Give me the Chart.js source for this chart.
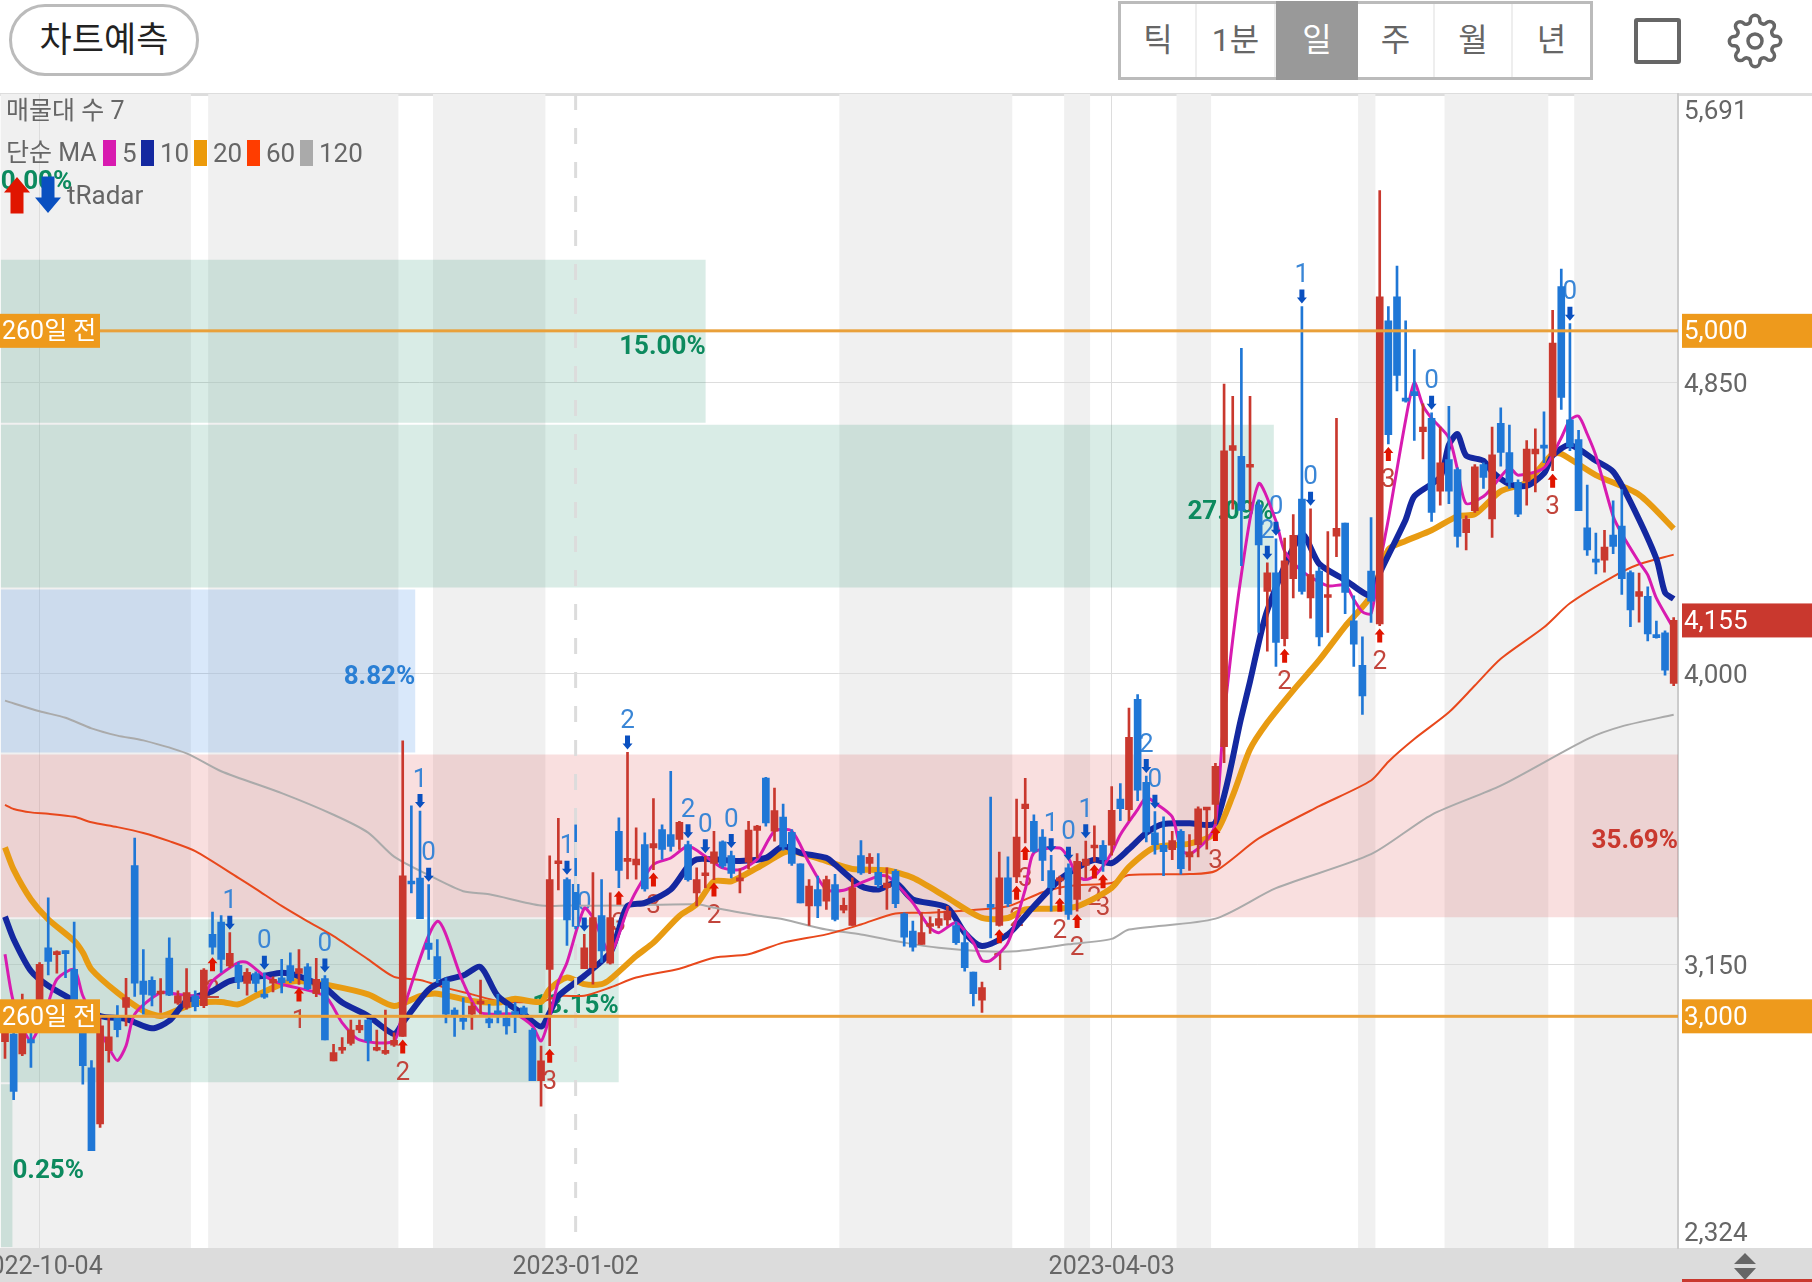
<!DOCTYPE html>
<html lang="ko">
<head>
<meta charset="utf-8">
<title>차트</title>
<script src="https://cdn.jsdelivr.net/npm/chart.js@4/dist/chart.umd.min.js"></script>
<style>
    html, body { margin: 0; padding: 0; background: #fff; }
    body { width: 1812px; height: 1282px; position: relative; overflow: hidden; font-family: Roboto, "Noto Sans CJK KR", sans-serif; }
    canvas { position: absolute; left: 0; top: 0; }
    .pill { position: absolute; left: 9px; top: 4px; width: 190px; height: 72px; box-sizing: border-box; border: 3px solid #bbb; border-radius: 36px; text-align: center; line-height: 67px; font-size: 35px; color: #222; }
    .periods { position: absolute; left: 1118px; top: 1px; width: 475px; height: 79px; box-sizing: border-box; border: 3px solid #bbb; display: flex; }
    .periods div { text-align: center; line-height: 72px; font-size: 32px; color: #666; border-right: 2px solid #eee; box-sizing: border-box; }
    .periods .active { background: #999; color: #fff; border-right: 0; height: 79px; margin-top: -3px; line-height: 78px; }
    .square { position: absolute; left: 1634px; top: 18px; width: 47px; height: 46px; box-sizing: border-box; border: 4px solid #666; border-radius: 3px; }
    .gear { position: absolute; left: 1727px; top: 13px; }
    .divider { position: absolute; left: 0; top: 93px; width: 1812px; height: 3px; background: #ddd; }
    .dateband { position: absolute; left: 0; top: 1248px; width: 1812px; height: 34px; background: #dcdcdc; }
    .redstrip { position: absolute; left: 1682px; top: 1279px; width: 130px; height: 3px; background: #c9382e; }
    .updown { position: absolute; left: 1732px; top: 1251px; }
</style>
</head>
<body>
<div class="pill">차트예측</div>
<div class="periods">
    <div style="width:76px">틱</div>
    <div style="width:79px">1분</div>
    <div class="active" style="width:82px">일</div>
    <div style="width:77px">주</div>
    <div style="width:78px">월</div>
    <div style="width:77px;border-right:0">년</div>
</div>
<div class="square"></div>
<svg class="gear" width="56" height="56" viewBox="0 0 24 24" fill="none" stroke="#666" stroke-width="1.5" stroke-linejoin="round">
    <circle cx="12" cy="12" r="3"></circle>
    <path d="M19.4 15a1.65 1.65 0 0 0 .33 1.82l.06.06a2 2 0 0 1 0 2.83 2 2 0 0 1-2.83 0l-.06-.06a1.65 1.65 0 0 0-1.82-.33 1.65 1.65 0 0 0-1 1.51V21a2 2 0 0 1-2 2 2 2 0 0 1-2-2v-.09A1.65 1.65 0 0 0 9 19.4a1.65 1.65 0 0 0-1.82.33l-.06.06a2 2 0 0 1-2.83 0 2 2 0 0 1 0-2.83l.06-.06a1.65 1.65 0 0 0 .33-1.82 1.65 1.65 0 0 0-1.51-1H3a2 2 0 0 1-2-2 2 2 0 0 1 2-2h.09A1.65 1.65 0 0 0 4.6 9a1.65 1.65 0 0 0-.33-1.82l-.06-.06a2 2 0 0 1 0-2.83 2 2 0 0 1 2.83 0l.06.06a1.65 1.65 0 0 0 1.82.33H9a1.65 1.65 0 0 0 1-1.51V3a2 2 0 0 1 2-2 2 2 0 0 1 2 2v.09a1.65 1.65 0 0 0 1 1.51 1.65 1.65 0 0 0 1.82-.33l.06-.06a2 2 0 0 1 2.83 0 2 2 0 0 1 0 2.83l-.06.06a1.65 1.65 0 0 0-.33 1.82V9a1.65 1.65 0 0 0 1.51 1H21a2 2 0 0 1 2 2 2 2 0 0 1-2 2h-.09a1.65 1.65 0 0 0-1.51 1z"></path>
</svg>
<div class="divider"></div>
<div class="dateband"></div>
<div class="redstrip"></div>
<svg class="updown" width="26" height="30"><path d="M13 2 L24 13 H2 Z M2 17 H24 L13 29 Z" fill="#666"></path></svg>
<canvas id="chart" width="1812" height="1282"></canvas>

<script>
// Daily candles, oldest first
const opens = [
    2926,2948,2890,2932,3011,3200,3180,3187,3137,3001,
    2850,2686,2900,2995,3026,3440,3103,3105,3065,3170,
    3038,3026,3060,3031,3239,3275,3147,3149,3096,3125,
    3064,3097,3112,3148,3125,3144,3066,3110,2870,2901,
    2921,2960,2989,2901,2892,2916,2941,3393,3403,3214,
    3174,3103,3018,2993,3006,3036,2993,3011,2995,3009,
    3025,2960,2812,3137,3445,3399,3385,3139,3142,3294,
    3155,3540,3452,3442,3501,3491,3545,3530,3516,3501,
    3360,3410,3446,3509,3469,3395,3450,3542,3695,3540,
    3581,3537,3445,3322,3370,3336,3384,3310,3265,3469,
    3446,3420,3375,3423,3299,3249,3210,3262,3265,3281,
    3265,3215,3129,3047,3324,3265,3404,3407,3606,3569,
    3523,3425,3395,3433,3341,3440,3491,3499,3499,3634,
    3603,3925,3683,3535,3499,3486,3540,3465,3501,3602,
    3618,3787,4651,4634,4602,4492,4240,4294,4102,4277,
    4509,4221,4299,4222,4401,4439,4154,4024,4299,4145,
    5029,5099,4801,4823,4706,4745,4532,4624,4595,4411,
    4475,4610,4451,4730,4645,4558,4561,4641,4664,4634,
    5129,4740,4683,4425,4330,4331,4404,4430,4295,4225,
    4225,4110,4119,3971
];
const closes = [
    2958,2781,2990,2922,3152,3160,3186,3183,3021,2856,
    2608,2972,2940,2961,3055,3097,3064,3062,3071,3062,
    3060,3069,3028,3135,3202,3166,3184,3100,3128,3096,
    3056,3108,3098,3103,3139,3081,3108,2931,2894,2906,
    2960,2974,2928,2909,2896,2930,3410,3386,3285,3195,
    3110,3006,3001,2985,3030,3040,2981,3007,2972,3005,
    3006,2812,2870,3399,3452,3281,3262,3200,3288,3191,
    3288,3426,3459,3459,3372,3504,3487,3496,3566,3399,
    3399,3414,3480,3438,3417,3400,3543,3555,3564,3600,
    3494,3446,3331,3380,3322,3399,3283,3324,3375,3418,
    3464,3384,3389,3329,3231,3202,3244,3268,3285,3307,
    3215,3142,3066,3084,3318,3404,3329,3523,3619,3481,
    3455,3375,3400,3297,3452,3459,3495,3457,3601,3606,
    3814,3660,3538,3501,3480,3513,3431,3480,3605,3606,
    3729,4650,4665,4476,4606,4375,4294,4091,4329,4403,
    4240,4289,4107,4227,4424,4237,4086,3935,4211,5099,
    4697,4870,4795,4811,4719,4470,4615,4532,4400,4451,
    4603,4572,4638,4645,4558,4465,4655,4655,4658,4964,
    4806,4662,4475,4361,4325,4369,4371,4277,4186,4239,
    4116,4105,4010,4155
];
const highs = [
    2963,2963,3065,2963,3157,3346,3191,3191,3275,3031,
    2871,3001,2997,3031,3111,3520,3195,3115,3110,3229,
    3074,3139,3074,3139,3304,3294,3244,3157,3139,3130,
    3127,3115,3166,3185,3195,3154,3169,3119,2918,2938,
    2989,2989,2991,2960,3018,2952,3804,3614,3599,3384,
    3224,3112,3025,3054,3040,3106,3035,3064,3030,3040,
    3030,2965,2913,3468,3578,3404,3559,3239,3419,3399,
    3360,3579,3770,3550,3535,3635,3559,3715,3569,3511,
    3433,3467,3540,3512,3482,3430,3569,3557,3697,3666,
    3619,3545,3445,3399,3409,3409,3414,3345,3404,3513,
    3475,3475,3433,3428,3302,3278,3302,3290,3312,3321,
    3275,3250,3129,3100,3640,3479,3465,3634,3694,3588,
    3545,3470,3409,3445,3475,3511,3556,3513,3670,3679,
    3899,3939,3701,3597,3582,3540,3545,3530,3611,3608,
    3738,4845,4809,4949,4809,4507,4323,4393,4395,4464,
    5071,4481,4310,4414,4745,4439,4227,4107,4455,5409,
    5071,5189,5029,4945,4787,4761,4719,4780,4600,4460,
    4610,4615,4719,4775,4725,4565,4680,4714,4764,5060,
    5180,5021,4710,4550,4410,4418,4504,4537,4300,4293,
    4253,4153,4125,4163
];
const lows = [
    2877,2757,2885,2851,3001,3121,3126,3113,3011,2802,
    2608,2676,2866,2940,2972,3058,3006,3030,3011,3060,
    3035,3021,3016,3025,3181,3128,3142,3081,3062,3071,
    3052,3071,3068,3098,3093,3078,3057,2931,2870,2892,
    2916,2952,2870,2899,2889,2912,2941,3360,3285,3166,
    3098,2981,2941,2962,2962,3006,2967,2981,2948,2952,
    3000,2812,2738,2914,3369,3207,3255,3139,3094,3157,
    3152,3375,3401,3400,3365,3428,3458,3482,3487,3394,
    3322,3375,3399,3433,3404,3360,3430,3462,3555,3511,
    3485,3440,3331,3265,3288,3312,3278,3302,3265,3414,
    3416,3375,3312,3317,3205,3190,3210,3242,3258,3265,
    3210,3132,3030,3011,3229,3263,3320,3390,3506,3478,
    3396,3307,3355,3283,3307,3404,3452,3423,3470,3571,
    3571,3629,3509,3473,3410,3457,3415,3426,3465,3488,
    3561,3740,4480,4315,4476,4120,4065,4021,4081,4221,
    4232,4162,4081,4120,4341,4175,4021,3881,4149,4140,
    4670,4825,4792,4680,4626,4444,4491,4496,4369,4361,
    4470,4540,4397,4605,4540,4458,4491,4530,4615,4592,
    4771,4650,4475,4345,4291,4296,4350,4231,4137,4150,
    4095,4103,3995,3965
];

const ma5Read = [
    [0,3181],[1,3040],[3,2929],[5,3040],[6,3108],[8,3137],[9,3060],[12,2909],[13,2871],[14,2914],[15,3006],
    [18,3069],[20,3064],[22,3060],[23,3060],[24,3103],[27,3157],[28,3157],[30,3118],[32,3094],[37,3059],
    [39,2981],[41,2931],[45,2928],[46,3016],[50,3277],[53,3098],[55,3011],[59,3006],[61,2972],[62,2928],
    [63,3000],[64,3100],[65,3157],[67,3315],[68,3288],[70,3186],[72,3312],[73,3365],[75,3443],[77,3462],
    [79,3496],[81,3467],[83,3433],[85,3428],[87,3458],[89,3540],[91,3540],[93,3448],[95,3370],[97,3368],
    [99,3389],[101,3409],[102,3409],[103,3389],[105,3331],[107,3258],[108,3244],[110,3273],[112,3215],
    [113,3163],[114,3163],[116,3215],[118,3370],[119,3477],[122,3491],[123,3462],[124,3409],[125,3399],
    [126,3409],[127,3438],[128,3477],[129,3530],[131,3603],[132,3639],[133,3623],[135,3582],[136,3488],
    [137,3473],[139,3514],[140,3561],[141,3873],[143,4289],[145,4554],[147,4445],[148,4357],[150,4299],
    [153,4256],[155,4258],[156,4216],[157,4180],[158,4175],[159,4320],[160,4450],[162,4740],[163,4849],
    [164,4782],[165,4745],[167,4688],[168,4595],[169,4496],[171,4517],[172,4543],[174,4600],[175,4579],
    [178,4600],[180,4688],[181,4740],[182,4751],[183,4699],[184,4636],[186,4459],[187,4408],[189,4325],
    [190,4288],[191,4220],[193,4131]
];
const ma10Read = [
    [0,3291],[1,3225],[3,3132],[5,3089],[8,3045],[11,3001],[14,2992],[17,2965],[19,2987],[21,3045],[24,3074],
    [26,3103],[30,3118],[32,3127],[34,3117],[37,3083],[39,3040],[42,3001],[45,2948],[46,2981],[49,3078],
    [51,3106],[53,3119],[55,3144],[57,3059],[60,3006],[62,2970],[63,3011],[64,3059],[67,3118],[70,3186],
    [71,3254],[72,3322],[74,3331],[77,3370],[79,3438],[80,3458],[82,3458],[85,3453],[88,3462],[90,3496],
    [92,3477],[95,3462],[96,3443],[99,3380],[101,3370],[103,3389],[105,3341],[109,3317],[111,3244],[113,3205],
    [116,3239],[119,3321],[122,3399],[124,3433],[126,3457],[128,3447],[130,3488],[132,3535],[134,3561],
    [137,3563],[140,3565],[143,3873],[144,3977],[146,4185],[150,4405],[152,4320],[155,4273],[158,4227],
    [159,4293],[162,4449],[163,4517],[166,4574],[167,4667],[168,4699],[169,4636],[171,4621],[172,4589],
    [174,4553],[176,4548],[178,4584],[179,4636],[181,4667],[184,4621],[186,4589],[188,4501],[191,4335],
    [192,4236],[193,4218]
];
const ma20Read = [
    [0,3493],[1,3428],[3,3341],[5,3283],[8,3220],[9,3186],[10,3137],[13,3069],[16,3016],[18,3001],[20,3019],
    [22,3038],[25,3042],[27,3035],[29,3060],[32,3094],[34,3103],[38,3088],[42,3064],[45,3030],[48,3059],
    [50,3066],[54,3045],[57,3040],[59,3051],[62,3042],[63,3079],[65,3113],[67,3094],[69,3094],[70,3108],
    [73,3176],[75,3215],[78,3293],[80,3327],[82,3394],[84,3394],[87,3433],[90,3477],[91,3482],[95,3453],
    [98,3430],[102,3426],[105,3404],[109,3346],[113,3287],[116,3287],[118,3312],[121,3314],[124,3321],
    [128,3375],[130,3436],[133,3493],[137,3504],[140,3535],[142,3644],[144,3779],[146,3857],[149,3951],
    [152,4039],[155,4138],[158,4227],[160,4362],[162,4387],[165,4418],[168,4459],[170,4465],[173,4532],
    [176,4558],[179,4641],[180,4641],[184,4579],[189,4522],[193,4423]
];
const ma60Read = [
    [0,3617],[1,3605],[3,3595],[5,3591],[8,3582],[10,3566],[13,3552],[16,3535],[19,3511],[22,3482],[27,3404],
    [29,3372],[32,3322],[35,3277],[38,3234],[42,3166],[45,3115],[48,3106],[51,3083],[54,3064],[57,3045],
    [62,3042],[64,3059],[67,3060],[70,3084],[73,3113],[78,3139],[82,3171],[86,3181],[90,3215],[95,3239],
    [99,3268],[103,3300],[107,3302],[112,3310],[116,3321],[120,3362],[123,3380],[128,3389],[130,3412],
    [137,3415],[140,3424],[145,3519],[152,3613],[158,3688],[160,3743],[163,3809],[167,3887],[170,3965],
    [173,4043],[178,4135],[181,4205],[186,4283],[189,4319],[193,4347]
];
const ma120Read = [
    [0,3921],[4,3890],[7,3871],[10,3840],[13,3819],[16,3805],[21,3767],[25,3715],[32,3651],[38,3588],[42,3536],
    [45,3466],[49,3412],[53,3365],[56,3356],[62,3323],[65,3323],[71,3323],[80,3327],[82,3317],[87,3294],
    [90,3283],[95,3253],[99,3239],[104,3215],[108,3200],[113,3190],[117,3190],[123,3210],[128,3226],[130,3253],
    [140,3285],[147,3374],[158,3473],[165,3588],[173,3673],[183,3809],[187,3846],[193,3880]
];

// Volume profile bins, top to bottom (percent)
const binLabels = ['5210', '4729', '4248', '3767', '3286', '2805', '2324'];
const binPercents = [0, 15.00, 27.09, 8.82, 35.69, 13.15, 0.25];
const binKinds = ['up', 'up', 'up', 'peak2', 'peak', 'up', 'up'];

// Signals: candle number and the count printed next to the arrow
const sellDays = [26,30,37,48,49,65,67,72,79,81,84,121,123,125,132,133,146,147,150,151,165,181];
const sellCounts = ['1','0','0','1','0','1','0','2','2','0','0','1','0','1','2','0','2','0','1','0','0','0'];
const buyDays = [24,34,46,63,71,75,82,115,117,118,122,124,126,127,140,148,159,160,179];
const buyCounts = ['2','1','2','3','3','3','2','1','2','3','2','2','2','3','3','2','2','3','3'];

// Axis text
const tickDays = [4, 66, 128];
const tickDates = ['2022-10-04', '2023-01-02', '2023-04-03'];
const solidDays = [4, 128];
const dashedDays = [66];
const priceTicks = [4850, 4000, 3150];
const edgeHigh = 5691;
const edgeLow = 2324;
const guideLevels = [5000, 3000];
const lastClose = 4155;

// Gray background stretches, in candle edges
const bandStarts = [0, 24, 50, 97, 123, 136, 157, 167, 182];
const bandEnds = [22, 46, 63, 117, 126, 140, 159, 179, 194];

const categories = opens.map((_, i) => String(i));
const RED = '#c9382e';
const BLUE = '#1f77d6';
const ORANGE = '#ee9a1c';
const candleColor = opens.map((o, i) => closes[i] >= o ? RED : BLUE);
const binColors = { up: 'rgba(0,125,85,0.15)', peak2: 'rgba(30,120,225,0.17)', peak: 'rgba(215,40,40,0.15)' };
const labelColors = { up: '#0c8a5e', peak2: '#2a7fd4', peak: '#c9382e' };

function expand(read) {
    const out = categories.map(() => null);
    read.forEach(([day, price]) => { out[day] = price; });
    return out;
}

function maLine(label, read, color, width, order) {
    return {
        type: 'line', label, data: expand(read), borderColor: color, borderWidth: width,
        pointRadius: 0, spanGaps: true, tension: 0.25, order, xAxisID: 'x', yAxisID: 'y'
    };
}

const FONT = 'Roboto, "Noto Sans CJK KR", sans-serif';

const layers = {
    id: 'layers',
    beforeDraw(chart) {
        const { ctx, chartArea, scales } = chart;
        const half = (scales.x.getPixelForValue(1) - scales.x.getPixelForValue(0)) / 2;
        ctx.save();
        ctx.fillStyle = '#f0f0f0';
        bandStarts.forEach((start, i) => {
            const left = scales.x.getPixelForValue(start) - half;
            const right = scales.x.getPixelForValue(bandEnds[i] - 1) + half;
            ctx.fillRect(left, chartArea.top, right - left, chartArea.bottom - chartArea.top);
        });
        ctx.restore();
    },
    afterDatasetDraw(chart, args) {
        if (args.index !== 0) return;
        const { ctx, scales } = chart;
        ctx.save();
        // percent text of the profile bins sits under the candles
        ctx.font = 'bold 26px ' + FONT;
        ctx.textBaseline = 'middle';
        binPercents.forEach((pct, i) => {
            const text = pct.toFixed(2) + '%';
            const end = scales.xPct.getPixelForValue(pct);
            const y = pct === 0 ? 182 : scales.yBin.getPixelForValue(i) + 6;
            const w = ctx.measureText(text).width;
            ctx.fillStyle = labelColors[binKinds[i]];
            ctx.textAlign = end > w ? 'right' : 'left';
            ctx.fillText(text, end, y);
        });
        ctx.font = '26px ' + FONT;
        ctx.textAlign = 'center';
        ctx.fillStyle = '#3a86d6';
        sellDays.forEach((day, i) => {
            ctx.fillText(sellCounts[i], scales.x.getPixelForValue(day), scales.y.getPixelForValue(highs[day]) - 31);
        });
        ctx.fillStyle = '#c2453c';
        buyDays.forEach((day, i) => {
            ctx.fillText(buyCounts[i], scales.x.getPixelForValue(day), scales.y.getPixelForValue(lows[day]) + 37);
        });
        ctx.restore();
    },
    afterDatasetsDraw(chart) {
        const { ctx, chartArea, scales } = chart;
        ctx.save();

        // dashed date line
        ctx.strokeStyle = '#dcdcdc';
        ctx.lineWidth = 3;
        ctx.setLineDash([16, 18]);
        dashedDays.forEach(day => {
            const x = scales.x.getPixelForValue(day);
            ctx.beginPath();
            ctx.moveTo(x, chartArea.top);
            ctx.lineTo(x, chartArea.bottom);
            ctx.stroke();
        });
        ctx.setLineDash([]);

        // signal arrows
        sellDays.forEach(day => arrow(ctx, scales.x.getPixelForValue(day), scales.y.getPixelForValue(highs[day]) - 3, -1, '#0a50c0', 1));
        buyDays.forEach(day => arrow(ctx, scales.x.getPixelForValue(day), scales.y.getPixelForValue(lows[day]) + 3, 1, '#e01500', 1));

        // guide lines with price tags
        guideLevels.forEach(level => {
            const y = scales.y.getPixelForValue(level);
            ctx.fillStyle = '#e9a03a';
            ctx.fillRect(chartArea.left, y - 1.5, chartArea.right - chartArea.left, 3);
            tag(ctx, 0, y, 100, ORANGE, '260일 전', 2, 25);
            tag(ctx, 1682, y, 130, ORANGE, level.toLocaleString('en-US'), 1684, 26);
        });
        tag(ctx, 1682, scales.y.getPixelForValue(lastClose), 130, RED, lastClose.toLocaleString('en-US'), 1684, 26);

        // top and bottom edge prices
        ctx.fillStyle = '#666';
        ctx.font = '26px ' + FONT;
        ctx.textAlign = 'left';
        ctx.textBaseline = 'middle';
        ctx.fillText(edgeHigh.toLocaleString('en-US'), 1684, 112);
        ctx.fillText(edgeLow.toLocaleString('en-US'), 1684, 1234);

        // legend rows
        ctx.font = '25px ' + FONT;
        ctx.fillText('매물대 수 7', 6, 113);
        ctx.fillText('단순 MA', 6, 155);
        ctx.font = '26px ' + FONT;
        const items = [['5', '#d81bb0', 103], ['10', '#1428a0', 141], ['20', '#ec9a0a', 194], ['60', '#ff3d00', 247], ['120', '#aaaaaa', 300]];
        items.forEach(([text, color, x]) => {
            ctx.fillStyle = color;
            ctx.fillRect(x, 140, 13, 26);
            ctx.fillStyle = '#666';
            ctx.fillText(text, x + 19, 155);
        });
        ctx.fillText('tRadar', 67, 197);
        arrow(ctx, 17, 177, 1, '#e01500', 2.6);
        arrow(ctx, 48, 213, -1, '#0a50c0', 2.6);
        ctx.restore();
    }
};

// dir 1: points up with the tip under (x, y); dir -1: points down with the tip above (x, y)
function arrow(ctx, x, y, dir, color, s) {
    ctx.fillStyle = color;
    ctx.beginPath();
    ctx.moveTo(x, y);
    ctx.lineTo(x + 5 * s, y + dir * 6 * s);
    ctx.lineTo(x + 2.5 * s, y + dir * 6 * s);
    ctx.lineTo(x + 2.5 * s, y + dir * 14 * s);
    ctx.lineTo(x - 2.5 * s, y + dir * 14 * s);
    ctx.lineTo(x - 2.5 * s, y + dir * 6 * s);
    ctx.lineTo(x - 5 * s, y + dir * 6 * s);
    ctx.closePath();
    ctx.fill();
}

function tag(ctx, left, y, width, color, text, textX, size) {
    ctx.fillStyle = color;
    ctx.fillRect(left, y - 17, width, 34);
    ctx.fillStyle = '#fff';
    ctx.font = size + 'px ' + FONT;
    ctx.textAlign = 'left';
    ctx.textBaseline = 'middle';
    ctx.fillText(text, textX, y + 2);
}

new Chart(document.getElementById('chart'), {
    type: 'bar',
    data: {
        labels: categories,
        datasets: [
            {
                label: '매물대', indexAxis: 'y', data: binPercents, xAxisID: 'xPct', yAxisID: 'yBin', order: 10,
                backgroundColor: binKinds.map(k => binColors[k]), barPercentage: 1, categoryPercentage: 0.988, grouped: false
            },
            maLine('MA120', ma120Read, '#aaaaaa', 2, 9),
            maLine('MA60', ma60Read, '#e8481c', 2, 8),
            maLine('MA20', ma20Read, '#e89b12', 6, 7),
            maLine('MA10', ma10Read, '#1428a0', 6, 6),
            maLine('MA5', ma5Read, '#d81bb0', 3, 5),
            {
                label: 'wick', data: lows.map((l, i) => [l, highs[i]]), backgroundColor: candleColor,
                barThickness: 2, grouped: false, order: 4, xAxisID: 'x', yAxisID: 'y'
            },
            {
                label: 'body', data: opens.map((o, i) => [o, closes[i]]), backgroundColor: candleColor,
                barThickness: 7, minBarLength: 3, grouped: false, order: 3, xAxisID: 'x', yAxisID: 'y'
            }
        ]
    },
    options: {
        responsive: false,
        animation: false,
        devicePixelRatio: 1,
        events: [],
        layout: { padding: { top: 94, left: 0, right: 0, bottom: 0 } },
        plugins: { legend: { display: false }, tooltip: { enabled: false } },
        scales: {
            x: {
                type: 'category',
                offset: true,
                grid: {
                    offset: false,
                    drawTicks: false,
                    color: c => solidDays.includes(c.index) ? '#dddddd' : 'transparent'
                },
                border: { display: false },
                afterFit: axis => { axis.height = 34; },
                ticks: {
                    autoSkip: false,
                    maxRotation: 0,
                    minRotation: 0,
                    padding: 5,
                    color: '#666',
                    font: { size: 25, family: FONT },
                    callback: (value, index) => {
                        const at = tickDays.indexOf(index);
                        return at >= 0 ? tickDates[at] : '';
                    }
                }
            },
            y: {
                position: 'right',
                min: edgeLow,
                max: edgeHigh,
                grid: { color: '#dddddd', drawTicks: false },
                border: { display: true, color: '#cccccc', width: 2 },
                afterFit: axis => { axis.width = 134; },
                afterBuildTicks: axis => { axis.ticks = priceTicks.map(value => ({ value })); },
                ticks: {
                    padding: 6,
                    labelOffset: 3,
                    color: '#666',
                    font: { size: 26, family: FONT },
                    callback: value => value.toLocaleString('en-US')
                }
            },
            xPct: { axis: 'x', type: 'linear', display: false, min: 0, max: 35.69, offset: false, grid: { display: false } },
            yBin: { axis: 'y', type: 'category', labels: binLabels, display: false, offset: true, grid: { display: false } }
        }
    },
    plugins: [layers]
});
</script>
</body>
</html>
